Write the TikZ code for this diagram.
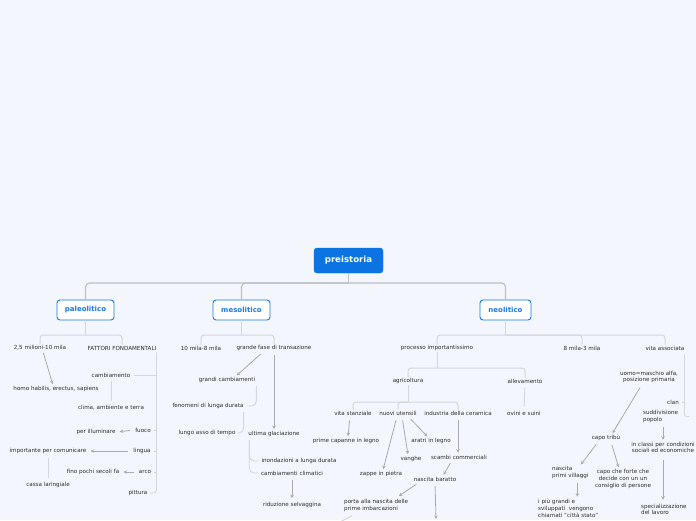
\documentclass[tikz,border=0pt]{standalone}
\usepackage{fontspec}
\setmainfont{DejaVu Sans}
\usetikzlibrary{arrows.meta,calc}
\definecolor{bg}{RGB}{243,246,253}
\definecolor{rootblue}{RGB}{11,115,226}
\definecolor{boxblue}{RGB}{26,120,228}
\definecolor{txt}{RGB}{45,45,45}
\definecolor{topline}{RGB}{190,192,200}
\definecolor{brline}{RGB}{212,214,222}
\definecolor{arrgray}{RGB}{170,170,175}
\tikzset{
  rootbox/.style={fill=rootblue,draw=rootblue,rounded corners=3pt,text=white,
    font=\bfseries\fontsize{8.6}{10}\selectfont,minimum width=69pt,minimum height=25pt,inner sep=0pt},
  mainbox/.style={fill=white,draw=boxblue,line width=0.9pt,rounded corners=3pt,text=boxblue,
    font=\bfseries\fontsize{7}{8}\selectfont,minimum height=20pt,inner sep=0pt},
  leaf/.style={text=txt,font=\fontsize{5.6}{6.8}\selectfont,inner sep=1pt},
  topln/.style={draw=topline,line width=1.2pt,rounded corners=4pt},
  brln/.style={draw=brline,line width=1pt,rounded corners=3pt},
  ln/.style={draw=brline,line width=0.9pt},
  arr/.style={draw=arrgray,line width=0.8pt,-{Stealth[length=3.5pt,width=3.5pt]},shorten <=1pt,shorten >=1pt},
}
\begin{document}
\begin{tikzpicture}[x=1pt,y=-1pt]
\path[use as bounding box,fill=bg] (0,0) rectangle (696,520);
\clip (0,0) rectangle (696,520);

% main boxes
\node[rootbox] (root) at (348.5,260.5) {preistoria};
\node[mainbox,minimum width=57pt] (pal) at (85.5,310) {paleolitico};
\node[mainbox,minimum width=57pt] (mes) at (241.5,310) {mesolitico};
\node[mainbox,minimum width=51pt] (neo) at (505.5,310) {neolitico};

\draw[topln] (root.south) -- (root.south |- 0,283);
\draw[topln] (pal.north) |- (root.south |- 0,283) -| (neo.north);
\draw[topln] (root.south |- 0,283) -| (mes.north);

% ---------- paleolitico ----------
\node[leaf] (p1) at (40,348) {2,5 milioni-10 mila};
\node[leaf] (p2) at (122,348) {FATTORI FONDAMENTALI};
\node[leaf] (p3) at (56,389) {homo habilis, erectus, sapiens};
\node[leaf] (p4) at (111,375) {cambiamento};
\node[leaf] (p5) at (111,408) {clima, ambiente e terra};
\node[leaf] (p6) at (143,430) {fuoco};
\node[leaf] (p7) at (96,432) {per illuminare};
\node[leaf] (p8) at (142,451) {lingua};
\node[leaf] (p9) at (48,451) {importante per comunicare};
\node[leaf] (p10) at (48,485) {cassa laringiale};
\node[leaf] (p11) at (145,472) {arco};
\node[leaf] (p12) at (93,472) {fino pochi secoli fa};
\node[leaf] (p13) at (138,493) {pittura};

\draw[brln] (pal.south) -- (pal.south |- 0,335);
\draw[brln] (p1.north) |- (pal.south |- 0,335) -| (p2.north);
\draw[arr] ([xshift=3pt]p1.south) -- ([xshift=-3pt]p3.north);
\coordinate (fv) at ([xshift=-1pt,yshift=-1pt]p2.south east);
\draw[ln,rounded corners=3pt] (fv) |- ([xshift=1pt]p13.east);
\draw[ln] ([xshift=3pt]p4.east) -- (p4.east -| fv);
\draw[ln] ([xshift=2pt]p6.east) -- (p6.east -| fv);
\draw[ln] ([xshift=2pt]p8.east) -- (p8.east -| fv);
\draw[ln] ([xshift=2pt]p11.east) -- (p11.east -| fv);
\draw[ln,shorten <=3pt,shorten >=3pt] (p4.south) -- (p5.north);
\draw[arr,shorten <=4pt,shorten >=3pt] (p6.west) -- (p7.east);
\draw[arr,shorten <=4pt,shorten >=3pt] (p8.west) -- (p9.east);
\draw[ln,shorten <=3pt,shorten >=3pt] (p9.south) -- (p10.north);
\draw[arr,shorten <=4pt,shorten >=3pt] (p11.west) -- (p12.east);

% ---------- mesolitico ----------
\node[leaf] (m1) at (201,348) {10 mila-8 mila};
\node[leaf] (m2) at (274,348) {grande fase di transazione};
\node[leaf] (m3) at (227,380) {grandi cambiamenti};
\node[leaf] (m4) at (208,406) {fenomeni di lunga durata};
\node[leaf] (m5) at (207,433) {lungo asso di tempo};
\node[leaf] (m6) at (274,434) {ultima glaciazione};
\node[leaf] (m7) at (299,461) {inondazioni a lunga durata};
\node[leaf] (m8) at (292,473) {cambiamenti climatici};
\node[leaf] (m9) at (292,505) {riduzione selvaggina};

\draw[brln] (mes.south) -- (mes.south |- 0,335);
\draw[brln] (m1.north) |- (mes.south |- 0,335) -| (m2.north);
\draw[arr,shorten <=3pt] ([xshift=-11pt]m2.south) -- ([xshift=9pt]m3.north);
\draw[arr,shorten <=3pt] (m2.south) -- (m6.north);
\draw[ln,rounded corners=5pt] ($(m3.east)+(0,6)$) |- ($(m4.east)+(3,0)$);
\draw[ln,rounded corners=5pt] ($(m4.east)+(-1,6)$) |- ($(m5.east)+(4,0)$);
\draw[ln,rounded corners=5pt] ($(m6.west)+(2,6)$) |- ($(m7.west)+(-2,0)$);
\draw[ln,rounded corners=5pt] ($(m6.west)+(2,6)$) |- ($(m8.west)+(-2,0)$);
\draw[arr,shorten <=4pt,shorten >=3pt] (m8.south) -- (m9.north);

% ---------- neolitico ----------
\node[leaf] (n1) at (437,348) {processo importantissimo};
\node[leaf] (n2) at (582,348) {8 mila-3 mila};
\node[leaf] (n3) at (665,348) {vita associata};
\node[leaf] (n4) at (408,381) {agricoltura};
\node[leaf] (n5) at (525,381) {allevamento};
\node[leaf] (n6) at (524,413) {ovini e suini};
\node[leaf] (n7) at (353,413) {vita stanziale};
\node[leaf] (n8) at (398,413) {nuovi utensili};
\node[leaf] (n9) at (458,413) {industria della ceramica};
\node[leaf] (n10) at (346,441) {prime capanne in legno};
\node[leaf] (n11) at (431,441) {aratri in legno};
\node[leaf] (n12) at (411,459) {vanghe};
\node[leaf] (n13) at (381,474) {zappe in pietra};
\node[leaf] (n14) at (459,457) {scambi commerciali};
\node[leaf] (n15) at (435,479) {nascita baratto};
\node[leaf,align=left,anchor=west] (n16) at (343,505.5) {porta alla nascita delle\\prime imbarcazioni};
\node[leaf,align=center] (n17) at (649,377) {uomo=maschio alfa,\\posizione primaria};
\node[leaf] (n18) at (673,402) {clan};
\node[leaf,align=left,anchor=west] (n19) at (642,416.5) {suddivisione\\popolo};
\node[leaf] (n20) at (606,438) {capo tribù};
\node[leaf,align=center] (n21) at (663,447.5) {in classi per condizioni\\sociali ed economiche};
\node[leaf,align=left,anchor=west] (n22) at (640,509.5) {specializzazione\\del lavoro};
\node[leaf,align=left,anchor=west] (n23) at (551,472.5) {nascita\\primi villaggi};
\node[leaf,align=center] (n24) at (623,479) {capo che forte che\\decide con un un\\consiglio di persone};
\node[leaf,align=left,anchor=west] (n25) at (537,508) {i più grandi e\\sviluppati\ \ vengono\\chiamati "città stato"};
\coordinate (nb) at (436,519);
\coordinate (pb) at (338,523);

\draw[brln] (neo.south) -- (neo.south |- 0,335);
\draw[brln] (n1.north) |- (neo.south |- 0,335) -| (n3.north);
\draw[brln] (neo.south |- 0,335) -| (n2.north);

\draw[brln] (n1.south) -- (n1.south |- 0,368);
\draw[brln] (n4.north) |- (n1.south |- 0,368) -| (n5.north);
\draw[ln,shorten <=3pt,shorten >=3pt] (n5.south) -- (n6.north);

\draw[brln] (n4.south) -- (n4.south |- 0,402);
\draw[brln] (n7.north) |- (n4.south |- 0,402) -| (n9.north);
\draw[brln] (n4.south |- 0,402) -| (n8.north);

\draw[arr,shorten <=4pt] ([xshift=-3pt]n7.south) -- ([xshift=2pt]n10.north);
\draw[arr,shorten <=4pt] ([xshift=10pt]n8.south) -- ([xshift=-3pt]n11.north);
\draw[arr,shorten <=4pt] ([xshift=4pt]n8.south) -- ([xshift=-3pt]n12.north);
\draw[arr,shorten <=4pt] ([xshift=-1pt]n8.south) -- ([xshift=2pt]n13.north);
\draw[arr,shorten <=4pt] (n9.south) -- (n9.south |- n14.north);
\draw[arr,shorten <=3pt] ([xshift=-7pt]n14.south) -- ([xshift=8pt]n15.north);
\draw[arr,shorten <=3pt,shorten >=2pt] ([xshift=-16pt]n15.south) -- ([xshift=21pt,yshift=1pt]n16.north);
\draw[arr,shorten <=4pt,shorten >=0pt] (n15.south) -- (nb);
\draw[ln] ($(n16.south west)+(9,3)$) -- (pb);

% vita associata
\coordinate (vv) at ([xshift=-1pt,yshift=-3pt]n3.south east);
\draw[ln,rounded corners=2pt] (vv) |- ([xshift=10pt]n19.east);
\draw[ln] ([xshift=2pt]n18.east) -- (n18.east -| vv);
\draw[arr,shorten <=4pt] ([xshift=-7pt]n17.south) -- ([xshift=6pt]n20.north);
\draw[arr,shorten <=3pt] (n21.north |- n19.south) -- (n21.north);
\draw[arr,shorten <=6pt,shorten >=3pt] (n21.south) -- (n21.south |- n22.north);
\draw[arr,shorten <=3pt] ([xshift=-8pt]n20.south) -- ([xshift=10pt]n23.north);
\draw[arr,shorten <=3pt] ([xshift=5pt]n20.south) -- ([xshift=-4pt]n24.north);
\draw[arr,shorten <=3pt] ([xshift=7pt]n23.south) -- ([xshift=7pt]n23.south |- n25.north);
\end{tikzpicture}
\end{document}
